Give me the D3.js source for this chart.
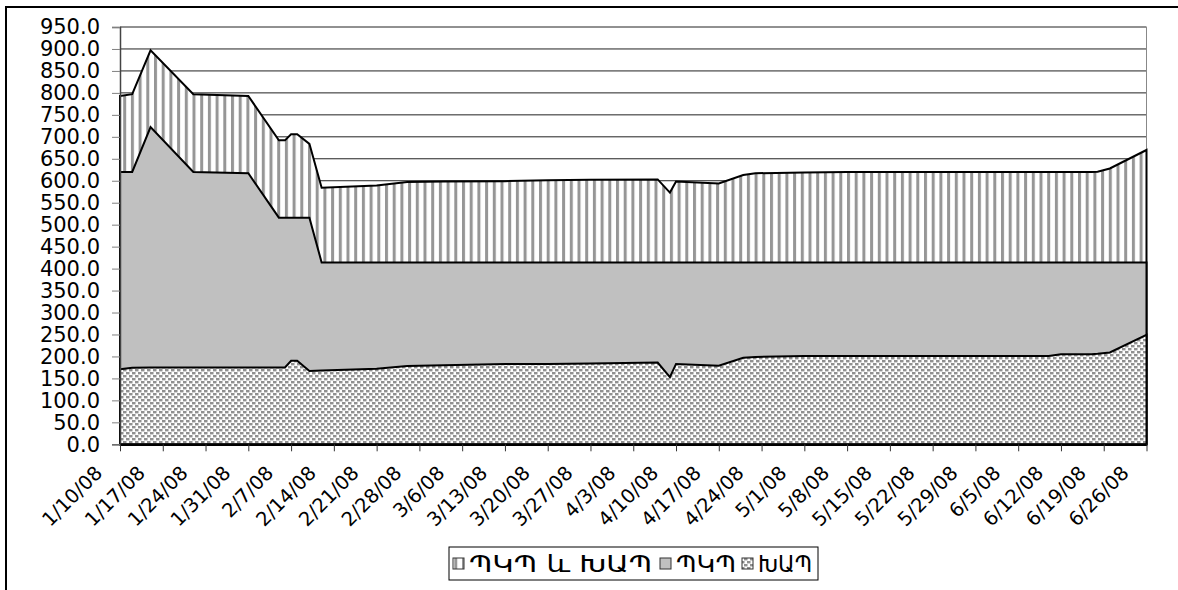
<!DOCTYPE html>
<html><head><meta charset="utf-8">
<script src="https://cdn.jsdelivr.net/npm/d3@7"></script>
<style>body{margin:0;background:#fff}svg{display:block}</style></head>
<body>
<svg id="c" width="1178" height="590"></svg>
<script>
const dates=["1/10/08","1/12/08","1/15/08","1/22/08","1/31/08","2/5/08","2/6/08","2/7/08","2/8/08","2/10/08","2/12/08","2/21/08","2/26/08","3/3/08","3/13/08","3/20/08","3/27/08","4/7/08","4/9/08","4/10/08","4/17/08","4/21/08","4/23/08","5/1/08","5/8/08","6/10/08","6/12/08","6/17/08","6/18/08","6/20/08","6/26/08"];
const totalValues=[793,797,897,797,793,692,692,706,706,684,584,589,597,598,599,601,602,603,573,598,594,613,617,619,620,620,620,620,620.5,628,670];
const pkpValues=[620,620,722,620,617,516,516,516,516,516,414,414,414,414,414,414,414,414,414,414,414,414,414,414,414,414,414,414,414,414,414];
const khapValues=[171,174,175,175,175,175,175,190,190,167,168,172,178,180,183,183,184,186,153,183,179,197,199,201,201,201,205,205,206,209,249];
const xTickLabels=["1/10/08","1/17/08","1/24/08","1/31/08","2/7/08","2/14/08","2/21/08","2/28/08","3/6/08","3/13/08","3/20/08","3/27/08","4/3/08","4/10/08","4/17/08","4/24/08","5/1/08","5/8/08","5/15/08","5/22/08","5/29/08","6/5/08","6/12/08","6/19/08","6/26/08"];
const yTicks=[0,50,100,150,200,250,300,350,400,450,500,550,600,650,700,750,800,850,900,950];
const legendLabels=["ՊԿՊ և ԽԱՊ","ՊԿՊ","ԽԱՊ"];

const parse=d3.timeParse("%m/%d/%y");
const svg=d3.select("#c");
const L=120,R=1146.5,T=27,B=444.3;
const x=d3.scaleTime().domain([parse(xTickLabels[0]),parse(xTickLabels[xTickLabels.length-1])]).range([L,R]);
const y=d3.scaleLinear().domain([0,950]).range([B,T]);

const defs=svg.append("defs");
const ps=defs.append("pattern").attr("id","stripes").attr("patternUnits","userSpaceOnUse").attr("width",7.7).attr("height",10);
ps.append("rect").attr("width",7.7).attr("height",10).attr("fill","#fff");
ps.append("rect").attr("x",0).attr("width",3).attr("height",10).attr("fill","#969696");
const pd=defs.append("pattern").attr("id","dots").attr("patternUnits","userSpaceOnUse").attr("width",6).attr("height",6);
pd.append("rect").attr("width",6).attr("height",6).attr("fill","#fff");
pd.append("rect").attr("x",0).attr("y",0).attr("width",3.5).attr("height",2.4).attr("fill","#909090");
pd.append("rect").attr("x",3).attr("y",3).attr("width",3.5).attr("height",2.4).attr("fill","#909090");
pd.append("rect").attr("x",-3).attr("y",3).attr("width",3.5).attr("height",2.4).attr("fill","#909090");

// outer border
svg.append("rect").attr("x",6).attr("y",7).attr("width",1190).attr("height",600).attr("fill","none").attr("stroke","#000").attr("stroke-width",2);

// gridlines
svg.append("g").selectAll("line").data(yTicks.filter(d=>d>0)).join("line")
  .attr("x1",L).attr("x2",R).attr("y1",d=>y(d)).attr("y2",d=>y(d)).attr("stroke","#222").attr("stroke-width",1);
svg.append("line").attr("x1",R).attr("x2",R).attr("y1",T).attr("y2",B).attr("stroke","#888").attr("stroke-width",1);

const pts=dates.map((d,i)=>({d:parse(d),t:totalValues[i],p:pkpValues[i],k:khapValues[i]}));
function area(key){return d3.area().x(d=>x(d.d)).y0(y(0)).y1(d=>y(d[key]))(pts);}
const series=[["t","url(#stripes)"],["p","#c0c0c0"],["k","url(#dots)"]];
series.forEach(([k,f])=>{
  svg.append("path").attr("d",area(k)).attr("fill",f).attr("stroke","#000").attr("stroke-width",2).attr("stroke-linejoin","miter");
});

// y axis
const ya=svg.append("g").attr("transform",`translate(${L},0)`)
  .call(d3.axisLeft(y).tickValues(yTicks).tickFormat(d3.format(".1f")).tickSize(8).tickPadding(12));
ya.select(".domain").attr("stroke","#444").attr("stroke-width",1.5);
ya.selectAll(".tick line").attr("stroke","#808080");
ya.selectAll("text").attr("font-family","DejaVu Sans").attr("font-size",21).attr("fill","#000");

// x axis
const xa=svg.append("g").attr("transform",`translate(0,${B})`)
  .call(d3.axisBottom(x).tickValues(xTickLabels.map(parse)).tickFormat((d,i)=>xTickLabels[i]).tickSize(7).tickSizeOuter(0));
xa.select(".domain").attr("stroke","#000").attr("stroke-width",2.5);
xa.selectAll(".tick line").attr("stroke","#333");
xa.selectAll("text").attr("font-family","DejaVu Sans").attr("font-size",19.5).attr("fill","#000")
  .attr("text-anchor","end").attr("dy",0).attr("y",0)
  .attr("transform","translate(-17,30) rotate(-45)");

// legend
const lg=svg.append("g");
lg.append("rect").attr("x",449).attr("y",547).attr("width",369).attr("height",33).attr("fill","#fff").attr("stroke","#000").attr("stroke-width",1);
const items=[{sx:453,tx:469,tw:183,f:"url(#stripes)"},{sx:660,tx:676,tw:60,f:"#c0c0c0"},{sx:742,tx:758,tw:54,f:"url(#dots)"}];
items.forEach((it,i)=>{
  lg.append("rect").attr("x",it.sx).attr("y",558).attr("width",11).attr("height",11).attr("fill",it.f).attr("stroke","#333").attr("stroke-width",1);
  lg.append("text").attr("x",it.tx).attr("y",572).attr("font-family","DejaVu Sans").attr("font-size",23)
    .attr("textLength",it.tw).attr("lengthAdjust","spacingAndGlyphs").text(legendLabels[i]);
});
</script>
</body></html>
